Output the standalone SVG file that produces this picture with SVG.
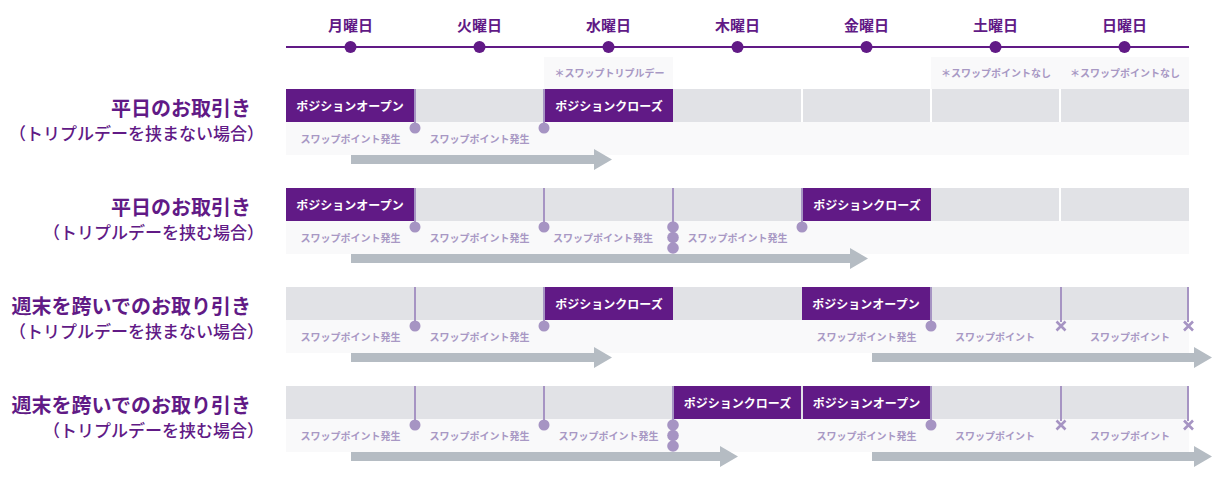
<svg xmlns="http://www.w3.org/2000/svg" width="1212" height="478" viewBox="0 0 1212 478">
<style>
text{font-family:"Noto Sans CJK JP","Noto Sans",sans-serif}
.day{font-size:15px;font-weight:700;fill:#611a86;text-anchor:middle}
.title{font-size:20px;font-weight:700;fill:#611a86;text-anchor:end}
.sub{font-size:17px;font-weight:500;fill:#611a86;text-anchor:end}
.box{fill:#611a86}
.boxt{font-size:12px;font-weight:700;fill:#ffffff;text-anchor:middle}
.lbl{font-size:10px;font-weight:700;fill:#a898c4;text-anchor:middle}
.note{font-size:10px;font-weight:700;fill:#a898c4;text-anchor:middle}
.gray{fill:#e1e2e6}
.band{fill:#f9f9fa}
.sep{fill:#ffffff}
.vl{stroke:#a694c3;stroke-width:2;fill:none}
.dot{fill:#a694c3}
.x{stroke:#a694c3;stroke-width:2.6;fill:none}
.arr{fill:#b5bcc3}
.tl{stroke:#611a86;stroke-width:2}
.td{fill:#611a86}
</style>

<g id="timeline">
<line class="tl" x1="286" y1="47" x2="1189" y2="47"/>
<circle class="td" cx="350.5" cy="47" r="6"/>
<circle class="td" cx="479.5" cy="47" r="6"/>
<circle class="td" cx="608.5" cy="47" r="6"/>
<circle class="td" cx="737.5" cy="47" r="6"/>
<circle class="td" cx="866.5" cy="47" r="6"/>
<circle class="td" cx="995.5" cy="47" r="6"/>
<circle class="td" cx="1124.5" cy="47" r="6"/>
<text class="day" x="350.5" y="31">月曜日</text>
<text class="day" x="479.5" y="31">火曜日</text>
<text class="day" x="608.5" y="31">水曜日</text>
<text class="day" x="737.5" y="31">木曜日</text>
<text class="day" x="866.5" y="31">金曜日</text>
<text class="day" x="995.5" y="31">土曜日</text>
<text class="day" x="1124.5" y="31">日曜日</text>
</g>

<g id="notes">
<rect class="band" x="544" y="57" width="129" height="32"/>
<rect class="band" x="931" y="57" width="258" height="32"/>
<text class="note" x="609.5" y="76.5">＊スワップトリプルデー</text>
<text class="note" x="996" y="76.5">＊スワップポイントなし</text>
<text class="note" x="1125" y="76.5">＊スワップポイントなし</text>
</g>

<g id="labels">
<text class="title" x="251" y="115.5">平日のお取引き</text>
<text class="sub" x="264" y="139.5">（トリプルデーを挟まない場合）</text>
<text class="title" x="251" y="214.5">平日のお取引き</text>
<text class="sub" x="264" y="238.5">（トリプルデーを挟む場合）</text>
<text class="title" x="251" y="313.5">週末を跨いでのお取り引き</text>
<text class="sub" x="264" y="337.5">（トリプルデーを挟まない場合）</text>
<text class="title" x="251" y="412.5">週末を跨いでのお取り引き</text>
<text class="sub" x="264" y="436.5">（トリプルデーを挟む場合）</text>
</g>

<!-- Row 1 -->
<g id="row1" transform="translate(0,89)">
<rect class="gray" x="286" y="0" width="903" height="33"/>
<rect class="band" x="286" y="33" width="903" height="33"/>
<rect class="sep" x="801" y="0" width="2" height="33"/>
<rect class="sep" x="930" y="0" width="2" height="33"/>
<rect class="sep" x="1059" y="0" width="2" height="33"/>
<g id="r1-open"><rect class="box" x="286" y="0" width="128" height="33"/><text class="boxt" x="350" y="21.5">ポジションオープン</text></g>
<g id="r1-close"><rect class="box" x="545" y="0" width="128" height="33"/><text class="boxt" x="609" y="21.5">ポジションクローズ</text></g>
<text class="lbl" x="350.5" y="54">スワップポイント発生</text>
<text class="lbl" x="479.5" y="54">スワップポイント発生</text>
</g>

<!-- Row 2 -->
<g id="row2" transform="translate(0,188)">
<rect class="gray" x="286" y="0" width="903" height="33"/>
<rect class="band" x="286" y="33" width="903" height="33"/>
<rect class="sep" x="1059" y="0" width="2" height="33"/>
<g id="r2-open"><rect class="box" x="286" y="0" width="128" height="33"/><text class="boxt" x="350" y="21.5">ポジションオープン</text></g>
<g id="r2-close"><rect class="box" x="803" y="0" width="128" height="33"/><text class="boxt" x="867" y="21.5">ポジションクローズ</text></g>
<text class="lbl" x="350.5" y="54">スワップポイント発生</text>
<text class="lbl" x="479.5" y="54">スワップポイント発生</text>
<text class="lbl" x="603" y="54">スワップポイント発生</text>
<text class="lbl" x="737.5" y="54">スワップポイント発生</text>
</g>

<!-- Row 3 -->
<g id="row3" transform="translate(0,287)">
<rect class="gray" x="286" y="0" width="903" height="33"/>
<rect class="band" x="286" y="33" width="903" height="33"/>
<g id="r3-close"><rect class="box" x="545" y="0" width="128" height="33"/><text class="boxt" x="609" y="21.5">ポジションクローズ</text></g>
<g id="r3-open"><rect class="box" x="802" y="0" width="128" height="33"/><text class="boxt" x="866" y="21.5">ポジションオープン</text></g>
<text class="lbl" x="350.5" y="54">スワップポイント発生</text>
<text class="lbl" x="479.5" y="54">スワップポイント発生</text>
<text class="lbl" x="866.5" y="54">スワップポイント発生</text>
<text class="lbl" x="995" y="54">スワップポイント</text>
<text class="lbl" x="1130" y="54">スワップポイント</text>
</g>

<!-- Row 4 -->
<g id="row4" transform="translate(0,386)">
<rect class="gray" x="286" y="0" width="903" height="33"/>
<rect class="band" x="286" y="33" width="903" height="33"/>
<g id="r4-close"><rect class="box" x="674" y="0" width="127" height="33"/><text class="boxt" x="737.5" y="21.5">ポジションクローズ</text></g>
<g id="r4-open"><rect class="box" x="803" y="0" width="127" height="33"/><text class="boxt" x="866.5" y="21.5">ポジションオープン</text></g>
<text class="lbl" x="350.5" y="54">スワップポイント発生</text>
<text class="lbl" x="479.5" y="54">スワップポイント発生</text>
<text class="lbl" x="608.5" y="54">スワップポイント発生</text>
<text class="lbl" x="866.5" y="54">スワップポイント発生</text>
<text class="lbl" x="995" y="54">スワップポイント</text>
<text class="lbl" x="1130" y="54">スワップポイント</text>
</g>

<g id="connectors">
<!-- row 1 -->
<g transform="translate(0,89)">
<line class="vl" x1="415" y1="0" x2="415" y2="39"/><circle class="dot" cx="415" cy="39" r="5.5"/>
<line class="vl" x1="544" y1="0" x2="544" y2="39"/><circle class="dot" cx="544" cy="39" r="5.5"/>
<polygon class="arr" points="351,66 594,66 594,60 612,70.5 594,81 594,75 351,75"/>
</g>
<!-- row 2 -->
<g transform="translate(0,188)">
<line class="vl" x1="415" y1="0" x2="415" y2="39"/><circle class="dot" cx="415" cy="39" r="5.5"/>
<line class="vl" x1="544" y1="0" x2="544" y2="39"/><circle class="dot" cx="544" cy="39" r="5.5"/>
<line class="vl" x1="673" y1="0" x2="673" y2="39"/><circle class="dot" cx="673" cy="39" r="5.8"/><circle class="dot" cx="673" cy="49.5" r="5.8"/><circle class="dot" cx="673" cy="60" r="5.8"/>
<line class="vl" x1="802" y1="0" x2="802" y2="39"/><circle class="dot" cx="802" cy="39" r="5.5"/>
<polygon class="arr" points="351,66 850,66 850,60 868,70.5 850,81 850,75 351,75"/>
</g>
<!-- row 3 -->
<g transform="translate(0,287)">
<line class="vl" x1="415" y1="0" x2="415" y2="39"/><circle class="dot" cx="415" cy="39" r="5.5"/>
<line class="vl" x1="544" y1="0" x2="544" y2="39"/><circle class="dot" cx="544" cy="39" r="5.5"/>
<line class="vl" x1="931" y1="0" x2="931" y2="39"/><circle class="dot" cx="931" cy="39" r="5.5"/>
<line class="vl" x1="1061" y1="0" x2="1061" y2="35"/><path class="x" d="M1056.5,34.5 L1065.5,43.5 M1065.5,34.5 L1056.5,43.5"/>
<line class="vl" x1="1188" y1="0" x2="1188" y2="35"/><path class="x" d="M1184,34.5 L1193,43.5 M1193,34.5 L1184,43.5"/>
<polygon class="arr" points="351,66 594,66 594,60 612,70.5 594,81 594,75 351,75"/>
<polygon class="arr" points="872,66 1194,66 1194,60 1212,70.5 1194,81 1194,75 872,75"/>
</g>
<!-- row 4 -->
<g transform="translate(0,386)">
<line class="vl" x1="415" y1="0" x2="415" y2="39"/><circle class="dot" cx="415" cy="39" r="5.5"/>
<line class="vl" x1="544" y1="0" x2="544" y2="39"/><circle class="dot" cx="544" cy="39" r="5.5"/>
<line class="vl" x1="673" y1="0" x2="673" y2="39"/><circle class="dot" cx="673" cy="39" r="5.8"/><circle class="dot" cx="673" cy="49.5" r="5.8"/><circle class="dot" cx="673" cy="60" r="5.8"/>
<line class="vl" x1="931" y1="0" x2="931" y2="39"/><circle class="dot" cx="931" cy="39" r="5.5"/>
<line class="vl" x1="1061" y1="0" x2="1061" y2="35"/><path class="x" d="M1056.5,34.5 L1065.5,43.5 M1065.5,34.5 L1056.5,43.5"/>
<line class="vl" x1="1188" y1="0" x2="1188" y2="35"/><path class="x" d="M1184,34.5 L1193,43.5 M1193,34.5 L1184,43.5"/>
<polygon class="arr" points="351,66 720,66 720,60 738,70.5 720,81 720,75 351,75"/>
<polygon class="arr" points="872,66 1194,66 1194,60 1212,70.5 1194,81 1194,75 872,75"/>
</g>
</g>
</svg>
